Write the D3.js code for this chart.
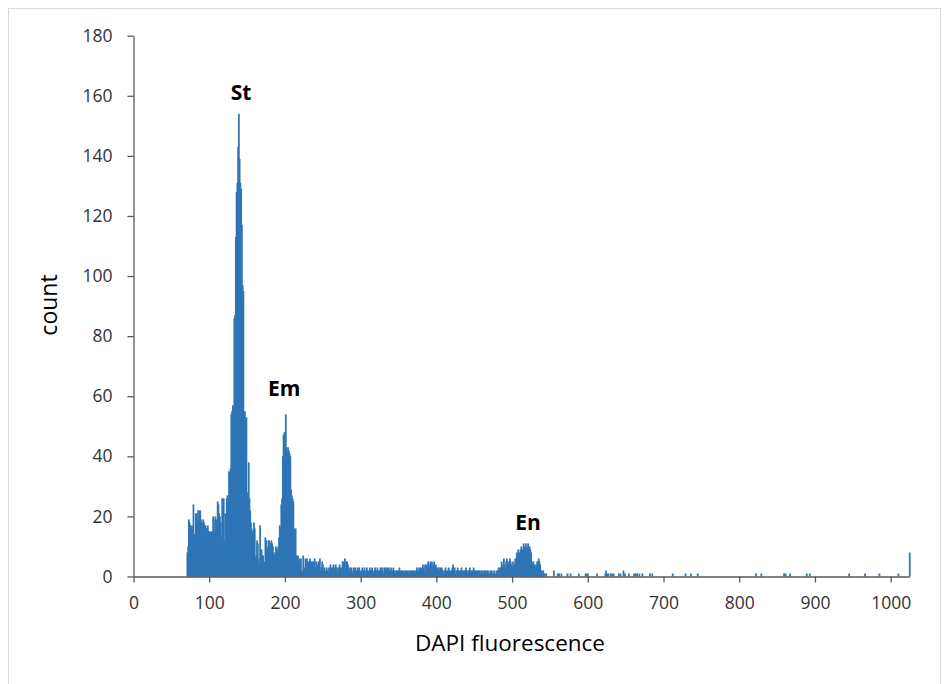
<!DOCTYPE html>
<html>
<head>
<meta charset="utf-8">
<script src="https://cdn.jsdelivr.net/npm/d3@7"></script>
<style>
  body { margin: 0; background: #fff; }
  svg { display: block; font-family: "Open Sans", sans-serif; }
</style>
</head>
<body>
<div id="chart"></div>
<script>
// Histogram of DAPI fluorescence (one bin per channel).
const firstBin = 70;
const counts = [
  8, 10, 19, 18, 17, 16, 17, 16, 24, 14,
  14, 21, 21, 18, 22, 20, 22, 22, 19, 18,
  18, 19, 18, 17, 17, 16, 16, 17, 15, 15,
  15, 14, 15, 15, 20, 19, 15, 20, 16, 19,
  25, 24, 21, 20, 18, 13, 26, 25, 26, 12,
  21, 17, 26, 27, 26, 35, 34, 36, 54, 55,
  57, 56, 86, 87, 113, 128, 131, 143, 154, 139,
  131, 129, 117, 97, 95, 54, 55, 52, 53, 28,
  27, 38, 26, 22, 18, 16, 15, 15, 18, 16,
  6, 7, 12, 11, 6, 4, 17, 8, 9, 7,
  7, 3, 5, 13, 12, 10, 9, 12, 12, 10,
  11, 12, 11, 10, 8, 7, 8, 10, 9, 9,
  10, 13, 17, 16, 24, 26, 40, 47, 48, 45,
  54, 43, 42, 43, 42, 41, 40, 29, 27, 26,
  25, 16, 15, 16, 7, 6, 7, 5, 6, 5,
  6, 2, 2, 7, 2, 3, 6, 5, 6, 2,
  5, 5, 6, 4, 5, 5,
  5, 4, 6, 3, 5, 2, 4, 5, 3, 6, 2, 3, 5, 4, 2, 3, 1, 2, 3, 2,
  1, 3, 2, 4, 3, 2, 3, 4, 3, 2, 4, 3, 1, 3, 2, 4, 3, 2, 3, 5,
  5, 4, 6, 3, 5, 5, 4, 3, 2, 3, 2, 3, 1, 2, 3, 2, 3, 2, 1, 3,
  2, 3, 2, 1, 2, 3, 2, 2, 3, 1, 2, 3, 2, 2, 1, 3, 2, 2, 3, 2,
  1, 2, 3, 2, 2, 3, 1, 2, 2, 3, 2, 3, 2, 1, 3, 2, 3, 2, 3, 2,
  3, 2, 2, 3, 1, 2, 3, 2, 2, 1, 2, 2, 1, 2, 3, 2, 1, 2, 2, 1,
  2, 1, 2, 2, 1, 2, 1, 2, 2, 1, 2, 2, 1, 2, 2, 1, 2, 3, 2, 2,
  3, 2, 3, 2, 3, 4, 3, 2, 4, 3, 4, 3, 5, 4, 3, 5, 4, 5, 3, 4,
  5, 3, 4, 3, 2, 3, 3, 2, 3, 2, 3, 2, 1, 2, 2, 3, 2, 1, 2, 3,
  2, 1, 2, 2, 3, 4, 2, 3, 1, 2, 2, 3, 2, 2, 1, 2, 3, 2, 1, 2,
  2, 2, 3, 2, 1, 2, 2, 3, 2, 2, 1, 2, 3, 2, 2, 1, 2, 2, 1, 2,
  2, 1, 2, 2, 1, 2, 1, 2, 2, 1, 2, 2, 1, 1, 2, 1, 2, 1, 1, 2,
  1, 1, 2, 1, 2, 3, 2, 3, 3, 5, 3, 4, 6, 4, 3, 5, 6, 4, 5, 4,
  6, 5, 4, 3, 5, 4, 4, 6, 5, 8, 7, 9, 6, 8, 9, 10, 8, 9, 11, 10,
  10, 11, 9, 10, 11, 9, 10, 9, 8, 5, 4, 5, 3, 4, 3, 4, 5, 5, 6, 5,
  4, 2, 2, 1, 2, 1, 1, 0, 1, 0
];
// Sparse channels in the long right tail.
const tailBins = [554, 559, 561, 564, 572, 576, 587, 596, 597, 599, 611, 622, 623, 625, 626,
  629, 631, 633, 640, 642, 646, 648, 653, 660, 662, 664, 667, 671, 681, 684,
  711, 728, 735, 744, 821, 828, 858, 860, 866, 888, 892, 944, 965, 984, 1009, 1024];
const tailCounts = [2, 1, 1, 1, 1, 1, 1, 1, 1, 1, 1, 1, 2, 1, 1,
  1, 1, 1, 1, 1, 2, 1, 1, 1, 1, 1, 1, 1, 1, 1,
  1, 1, 1, 1, 1, 1, 1, 1, 1, 1, 1, 1, 1, 1, 1, 8];

const xTicks = [0, 100, 200, 300, 400, 500, 600, 700, 800, 900, 1000];
const yTicks = [0, 20, 40, 60, 80, 100, 120, 140, 160, 180];
const peakNames = ['St', 'Em', 'En'];
const peakX = [142, 199, 521];
const peakY = [158.5, 60, 15.5];

const bins = counts.map((c, i) => ({ bin: firstBin + i, count: c }))
  .concat(tailBins.map((b, i) => ({ bin: b, count: tailCounts[i] })))
  .filter(d => d.count > 0);

const W = 946, H = 684;
const svg = d3.select('#chart').append('svg').attr('width', W).attr('height', H);

// light chart-area frame
svg.append('rect')
  .attr('x', 8.5).attr('y', 8.5).attr('width', 932).attr('height', 690)
  .attr('fill', 'none').attr('stroke', '#d9d9d9').attr('stroke-width', 1);

const x = d3.scaleLinear().domain([0, 1025]).range([133.5, 909.6]);
const y = d3.scaleLinear().domain([0, 180]).range([576.5, 35.7]);

const barW = x(1) - x(0);
svg.append('g')
  .selectAll('rect')
  .data(bins)
  .join('rect')
  .attr('x', d => x(d.bin))
  .attr('y', d => y(d.count))
  .attr('width', barW + 1)
  .attr('height', d => y(0) - y(d.count))
  .attr('fill', '#2e75b6');

const axisColor = '#595959';
const gy = svg.append('g')
  .attr('transform', `translate(${x(0)},0)`)
  .call(d3.axisLeft(y).tickValues(yTicks).tickSize(6).tickSizeOuter(0).tickPadding(15));
const gx = svg.append('g')
  .attr('transform', `translate(0,${y(0)})`)
  .call(d3.axisBottom(x).tickValues(xTicks).tickFormat(d3.format('d'))
    .tickSize(6).tickSizeOuter(0).tickPadding(14));

[gx, gy].forEach(g => {
  g.select('.domain').attr('stroke', axisColor).attr('stroke-width', 1.3);
  g.selectAll('.tick line').attr('stroke', axisColor).attr('stroke-width', 1.3);
  g.selectAll('.tick text')
    .attr('fill', '#333')
    .style('font-family', '"Open Sans", sans-serif')
    .style('font-size', '17.5px');
});

// peak labels
svg.append('g')
  .selectAll('text')
  .data(peakNames)
  .join('text')
  .attr('x', (d, i) => x(peakX[i]))
  .attr('y', (d, i) => y(peakY[i]))
  .attr('text-anchor', 'middle')
  .style('font-size', '21px')
  .style('font-weight', 'bold')
  .attr('fill', '#000')
  .text(d => d);

// axis titles
svg.append('text')
  .attr('x', 510).attr('y', 650.5)
  .attr('text-anchor', 'middle')
  .style('font-size', '22.5px')
  .attr('fill', '#000')
  .text('DAPI fluorescence');

svg.append('text')
  .attr('transform', 'translate(57,305) rotate(-90)')
  .attr('text-anchor', 'middle')
  .style('font-size', '23px')
  .attr('fill', '#000')
  .text('count');
</script>
</body>
</html>
